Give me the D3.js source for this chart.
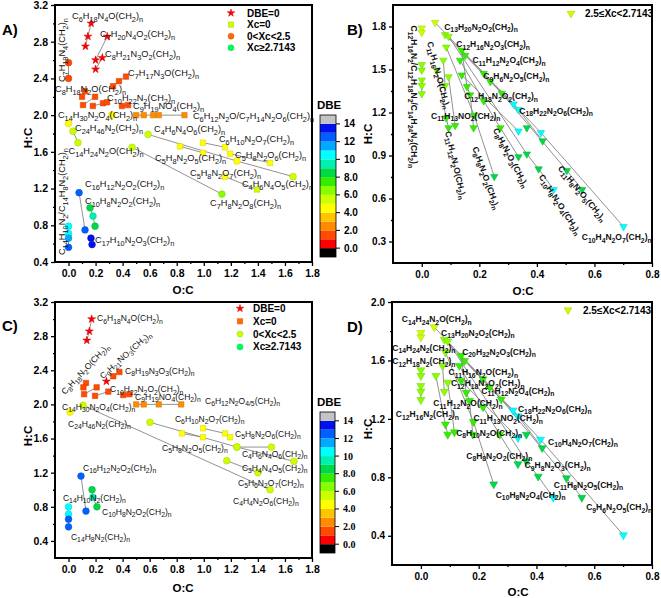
<!DOCTYPE html>
<html><head><meta charset="utf-8">
<script src="https://cdn.jsdelivr.net/npm/d3@7/dist/d3.min.js"></script>
<style>html,body{margin:0;padding:0;background:#fff;}svg{display:block;}</style>
</head><body>
<script>
// ================= DATA =================
// DBE colour scale (blocks from -1 to 15)
const dbeBreaks = [0,1,2,3,4,5,6,7,8,9,10,11,12,13,14];
const dbeColors = ["#000000","#ff0000","#ff4a00","#ff8c00","#ffc400","#ffff00","#ccff00","#88ff00","#33ee00","#00d848","#00f0b0","#00ffff","#00aaff","#0060ff","#0010ee","#c4c4c4"];
const dbeTicks = [0,2,4,6,8,10,12,14];
const dbeTickLabels = ["0.0","2.0","4.0","6.0","8.0","10","12","14"];

// axis ticks
const acXTicks = [0,0.2,0.4,0.6,0.8,1.0,1.2,1.4,1.6,1.8];
const acXMinor = [0.1,0.3,0.5,0.7,0.9,1.1,1.3,1.5,1.7];
const aYTicks = [0.4,0.8,1.2,1.6,2.0,2.4,2.8,3.2];
const cYTicks = [0.4,0.8,1.2,1.6,2.0,2.4,2.8,3.2];
const acYMinor = [0.6,1.0,1.4,1.8,2.2,2.6,3.0];
const bdXTicks = [0,0.2,0.4,0.6,0.8];
const bdXMinor = [0.1,0.3,0.5,0.7];
const bYTicks = [0.3,0.6,0.9,1.2,1.5,1.8];
const bYMinor = [0.45,0.75,1.05,1.35,1.65];
const dYTicks = [0.4,0.8,1.2,1.6,2.0];
const dYMinor = [0.6,1.0,1.4,1.8];

// Panel A series: [O:C, H:C, DBE]
const aSeries = [
 {m:"star",   p:[[0.167,3.0,0],[0.143,2.857,0],[0.125,2.75,0]]},
 {m:"star",   p:[[0.286,2.857,0],[0.2,2.6,0]]},
 {m:"star",   p:[[0.25,2.625,0],[0.2,2.5,0]]},
 {m:"circle", p:[[0,2.571,1],[0,2.4,1]]},
 {m:"square", p:[[0.329,2.315,1],[0.373,2.37,1],[0.425,2.42,1]]},
 {m:"square", p:[[0.122,2.26,1],[0.1,2.2,1]]},
 {m:"square", p:[[0.107,2.11,1],[0.196,2.2,1]]},
 {m:"square", p:[[0.18,2.1,1],[0.255,2.13,1],[0.285,2.14,1]]},
 {m:"square", p:[[0.395,2.1,1],[0.44,2.11,1]]},
 {m:"square", p:[[0.5,2.0,2],[0.556,2.0,2],[0.625,2.0,2],[0.667,2.0,2],[0.857,2.0,2]]},
 {m:"circle", p:[[0,1.91,4]]},
 {m:"circle", p:[[0.32,2.0,4]]},
 {m:"circle", p:[[0.033,1.825,5],[0.07,1.70,5]]},
 {m:"circle", p:[[0.588,1.79,5],[1.245,1.5,4],[1.66,1.33,5]]},
 {m:"circle", p:[[0.47,1.65,5],[1.134,1.14,6]]},
 {m:"square", p:[[0.824,1.66,4],[0.994,1.59,4]]},
 {m:"square", p:[[0.994,1.70,4],[1.157,1.65,4]]},
 {m:"square", p:[[1.194,1.58,4],[1.49,1.48,4]]},
 {m:"square", p:[[1.157,1.33,4],[1.393,1.19,5]]},
 {m:"circle", p:[[0.078,1.155,12],[0.122,0.75,12]]},
 {m:"circle", p:[[0.159,0.99,8],[0.181,0.9,9],[0.196,0.79,8]]},
 {m:"circle", p:[[0.166,0.66,13],[0.174,0.59,13]]},
 {m:"circle", p:[[0,0.79,10],[0,0.71,10],[0,0.66,11],[0,0.56,12]]}
];
// labels: [text, O:C, H:C, angle]
const aLabels = [
 ["C6H18N4O(CH2)n",0.026,3.047,0],["C7H20N4O2(CH2)n",0.233,2.851,0],["C8H21N3O2(CH2)n",0.27,2.633,0],
 ["C7H17N3O(CH2)n",0.44,2.426,0],["C8H18N2O(CH2)n",-0.1,2.252,0],["C10H22N2(CH2)n",0.285,2.154,0],
 ["C9H19NO4(CH2)n",0.477,2.067,0],["C6H12N2O/C7H14N2O6(CH2)n",0.92,1.958,0],["C14H30N2O4(CH2)n",-0.078,1.969,0],
 ["C24H46N2(CH2)n",0.048,1.827,0],["C4H6N4O6(CH2)n",0.632,1.816,0],["C6H10N2O7(CH2)n",1.112,1.707,0],
 ["C14H24N2O(CH2)n",0.0,1.577,0],["C5H8N2O5(CH2)n",0.64,1.5,0],["C5H8N2O6(CH2)n",1.231,1.533,0],
 ["C5H8N2O7(CH2)n",0.898,1.337,0],["C4H6N4O5(CH2)n",1.282,1.217,0],["C7H8N2O8(CH2)n",1.046,1.01,0],
 ["C16H12N2O2(CH2)n",0.122,1.217,0],["C10H8N2O2(CH2)n",0.122,1.032,0],["C17H10N2O3(CH2)n",0.196,0.607,0],
 ["C14H10N2/C14H8N2(CH2)n",-0.026,0.476,-90],["C7H18N4(CH2)n",-0.026,2.36,-90]
];

// Panel C series
const cSeries = [
 {m:"star",   p:[[0.171,3.0,0],[0.154,2.857,0],[0.135,2.75,0]]},
 {m:"star",   p:[[0.28,2.27,0]]},
 {m:"square", p:[[0.331,2.33,1],[0.376,2.38,1]]},
 {m:"square", p:[[0.129,2.25,1],[0.11,2.2,1]]},
 {m:"square", p:[[0.115,2.12,1],[0.208,2.2,1]]},
 {m:"square", p:[[0.196,2.1,1],[0.294,2.15,1]]},
 {m:"square", p:[[0.405,2.11,1],[0.45,2.12,1]]},
 {m:"square", p:[[0.5,2.0,2],[0.556,2.0,2],[0.667,2.0,2],[0.833,2.0,2]]},
 {m:"circle", p:[[0.011,1.91,4]]},
 {m:"circle", p:[[0.107,1.99,5],[1.49,1.0,5]]},
 {m:"circle", p:[[0.602,1.79,5],[1.245,1.5,5],[1.667,1.333,5]]},
 {m:"square", p:[[0.839,1.66,4],[0.994,1.615,4]]},
 {m:"square", p:[[0.994,1.72,4],[1.157,1.66,4]]},
 {m:"square", p:[[1.194,1.615,4]]},
 {m:"circle", p:[[1.245,1.5,5],[1.5,1.5,5]]},
 {m:"circle", p:[[1.17,1.34,5],[1.4,1.2,5]]},
 {m:"circle", p:[[0.092,1.16,12],[0.129,0.75,12]]},
 {m:"circle", p:[[0.174,1.0,8],[0.18,0.91,9],[0.21,0.8,8]]},
 {m:"circle", p:[[0,0.8,10],[0,0.715,10],[0,0.655,12],[0,0.565,12]]}
];
const cLabels = [
 ["C6H18N4O(CH2)n",0.211,2.974,0],["C8H18N2O(CH2)n",-0.026,2.109,-47],["C9H21NO3(CH2)n",0.255,2.296,-42],
 ["C8H19N3O3(CH2)n",0.418,2.355,0],["C10H22N2O2(CH2)n",0.307,2.144,0],["C9H19NO4(CH2)n",0.492,2.051,0],
 ["C6H12N2O4/5(CH2)n",1.009,2.004,0],["C14H30N2O4(CH2)n",-0.048,1.934,0],["C24H46N2(CH2)n",-0.004,1.735,0],
 ["C6H10N2O7(CH2)n",0.787,1.794,0],["C5H8N2O6(CH2)n",1.231,1.618,0],["C5H8N2O5(CH2)n",0.691,1.455,0],
 ["C4H6N4O6(CH2)n",1.282,1.384,0],["C3H4N4O5(CH2)n",1.282,1.22,0],["C5H6N2O7(CH2)n",1.253,1.045,0],
 ["C4H4N2O6(CH2)n",1.216,0.835,0],["C16H12N2O2(CH2)n",0.107,1.221,0],["C14H10N2(CH2)n",-0.041,0.87,0],
 ["C10H8N2O2(CH2)n",0.248,0.706,0],["C14H8N2(CH2)n",0.018,0.414,0]
];

// Panels B and D series (2.5<=Xc<2.7143, triangles)
const bdSeries = [
 [[0.046,1.828,5],[0.319,1.259,10],[0.414,1.059,10],[0.701,0.404,10]],
 [[0.081,1.743,6],[0.215,1.472,7],[0.278,1.334,7],[0.504,0.795,8],[0.557,0.662,8]],
 [[0.093,1.731,6],[0.365,0.91,8],[0.406,0.806,8],[0.458,0.662,10]],
 [[0.133,1.564,7],[0.215,1.281,7],[0.273,1.093,7],[0.336,0.891,8]],
 [[0.151,1.598,7],[0.238,1.415,7],[0.336,1.22,10],[0.42,1.001,8]],
 [[0.085,1.656,6],[0.182,1.18,7],[0.252,0.753,8]],
 [[0.052,1.495,6],[0.085,1.162,7],[0.093,1.093,7]],
 [[0.139,1.633,7],[0.157,1.38,7],[0.168,1.323,7],[0.18,1.093,7]],
 [[0.139,1.461,7],[0.336,1.07,10]],
 [[0.365,1.093,8]],
 [[0.075,1.564,6],[0.081,1.387,6]],
 [[0.093,1.449,6],[0.116,1.109,7]],
 [[0,1.789,5],[0,1.759,5]],
 [[0,1.534,6],[0,1.495,6]],
 [[0,1.426,6],[0,1.387,6],[0,1.33,6]]
];
const bLabels = [
 ["C13H20N2O2(CH2)n",0.078,1.779,0],["C12H16N2O3(CH2)n",0.12,1.654,0],["C11H12N2O4(CH2)n",0.176,1.543,0],
 ["C9H6N2O5(CH2)n",0.214,1.432,0],["C12H18N2O2(CH2)n",0.148,1.293,0],["C18H22N2O6(CH2)n",0.339,1.189,0],
 ["C11H13NO2(CH2)n",0.032,1.154,0],["C10H4N2O7(CH2)n",0.556,0.307,0],
 ["C12H16N2/C12H18N2/C14H24N2(CH2)n",-0.038,1.807,90],["C11H16N2O(CH2)n",0.018,1.689,75],
 ["C11H12N2O(CH2)n",0.081,1.064,77],["C8H8N2O2(CH2)n",0.175,0.953,70],["C8H8N2O3(CH2)n",0.247,1.078,62],
 ["C10H8N2O4(CH2)n",0.406,0.751,57],["C11H8N2O5(CH2)n",0.472,0.807,50]
];
const dLabels = [
 ["C14H24N2O(CH2)n",-0.066,1.86,0],["C13H20N2O2(CH2)n",0.07,1.77,0],["C14H24N2(CH2)n",-0.099,1.665,0],
 ["C20H32N2O3(CH2)n",0.143,1.64,0],["C12H18N2(CH2)n",-0.099,1.573,0],["C11H16N2O(CH2)n",0.096,1.497,0],
 ["C12H18N2O2(CH2)n",0.104,1.424,0],["C11H12N2O4(CH2)n",0.209,1.371,0],["C11H12N2O(CH2)n",0.043,1.286,0],
 ["C18H22N2O6(CH2)n",0.336,1.247,0],["C12H16N2(CH2)n",-0.087,1.21,0],["C11H13NO2(CH2)n",0.182,1.183,0],
 ["C8H10N2O(CH2)n",0.122,1.086,0],["C10H4N2O7(CH2)n",0.44,1.022,0],["C8H8N2O2(CH2)n",0.157,0.926,0],
 ["C9H8N2O3(CH2)n",0.359,0.861,0],["C11H8N2O5(CH2)n",0.46,0.728,0],["C10H8N2O4(CH2)n",0.259,0.659,0],
 ["C9H6N2O5(CH2)n",0.572,0.574,0]
];

const legendAC_A = [["star","#ff0000","DBE=0"],["square","#ccff00","Xc=0"],["circle","#ff6a00","0<Xc<2.5"],["circle","#00ff55","Xc\u22652.7143"]];
const legendAC_C = [["star","#ff0000","DBE=0"],["square","#ff6a00","Xc=0"],["circle","#ccff00","0<Xc<2.5"],["circle","#00ff55","Xc\u22652.7143"]];
const legendBD = [["tri","#ccff00","2.5\u2264Xc<2.7143"]];

// ================= DRAWING =================
const FONT = '"Liberation Sans", Arial, Helvetica, sans-serif';
const svg = d3.select("body").append("svg").attr("width",661).attr("height",598)
  .style("font-family",FONT);
svg.append("rect").attr("width",661).attr("height",598).attr("fill","#fff");

const dbeColor = d3.scaleThreshold().domain(dbeBreaks).range(dbeColors);
const symType = {star:d3.symbolStar, square:d3.symbolSquare, circle:d3.symbolCircle, tri:d3.symbolTriangle};
const symSize = {star:20, square:30, circle:36, tri:26};

function formula(g, str, px, py, size, angle, weight){
  const t = g.append("text").attr("transform",`translate(${px},${py}) rotate(${angle||0})`)
    .attr("font-size",size).attr("font-weight",weight||"normal").attr("fill","#111");
  const runs=[]; let inSub=false;
  for(let i=0;i<str.length;i++){
    const c=str[i], prev=str[i-1]||"", next=str[i+1]||"";
    let sub=false;
    if(/\d/.test(c) && (inSub || /[A-Za-z)]/.test(prev))) sub=true;
    else if(c==="/" && inSub && /\d/.test(next)) sub=true;
    else if(c==="n" && prev===")") sub=true;
    inSub=sub;
    if(runs.length && runs[runs.length-1].sub===sub) runs[runs.length-1].t+=c;
    else runs.push({t:c,sub});
  }
  let shift=0;
  runs.forEach(r=>{
    const target = r.sub ? size*0.28 : 0;
    t.append("tspan").attr("dy",target-shift).attr("font-size", r.sub? size*0.8 : size).text(r.t);
    shift=target;
  });
}

function drawMarker(g, type, cx, cy, color, sz){
  const p = g.append("path").attr("d", d3.symbol().type(symType[type]).size(sz||symSize[type])())
    .attr("fill", color).attr("stroke", d3.color(color).darker(0.6)).attr("stroke-width",0.5);
  p.attr("transform", `translate(${cx},${cy})` + (type==="tri" ? " rotate(180)" : ""));
}

function panel(cfg){
  const x = d3.scaleLinear().domain(cfg.xd).range([cfg.l,cfg.r]);
  const y = d3.scaleLinear().domain(cfg.yd).range([cfg.b,cfg.t]);
  const g = svg.append("g");
  const styleAxis = (sel, fs) => {
    sel.select(".domain").remove();
    sel.selectAll(".tick line").attr("stroke","#000").attr("stroke-width",1.3);
    sel.selectAll(".tick text").attr("font-size",fs).attr("font-weight","bold").attr("fill","#000").attr("font-family",FONT);
  };
  g.append("g").attr("transform",`translate(0,${cfg.b})`)
    .call(d3.axisBottom(x).tickValues(cfg.xt).tickFormat(d3.format(".1f")).tickSize(4).tickPadding(4))
    .call(s=>styleAxis(s,cfg.tfs));
  g.append("g").attr("transform",`translate(0,${cfg.b})`)
    .call(d3.axisBottom(x).tickValues(cfg.xm).tickFormat("").tickSize(2)).call(s=>styleAxis(s,cfg.tfs));
  g.append("g").attr("transform",`translate(${cfg.l},0)`)
    .call(d3.axisLeft(y).tickValues(cfg.yt).tickFormat(d3.format(".1f")).tickSize(4).tickPadding(3))
    .call(s=>styleAxis(s,cfg.tfs));
  g.append("g").attr("transform",`translate(${cfg.l},0)`)
    .call(d3.axisLeft(y).tickValues(cfg.ym).tickFormat("").tickSize(2)).call(s=>styleAxis(s,cfg.tfs));
  g.append("rect").attr("x",cfg.l).attr("y",cfg.t).attr("width",cfg.r-cfg.l).attr("height",cfg.b-cfg.t)
    .attr("fill","none").attr("stroke","#000").attr("stroke-width",2);

  const line = d3.line().x(d=>x(d[0])).y(d=>y(d[1]));
  const inner = g.append("g");
  cfg.series.forEach(s=>{
    const pts = s.p || s;
    if(pts.length>1) inner.append("path").attr("d",line(pts)).attr("fill","none").attr("stroke","#868686").attr("stroke-width",0.9);
  });
  cfg.series.forEach(s=>{
    const pts = s.p || s, m = s.m || "tri";
    pts.forEach(d=>drawMarker(inner, m, x(d[0]), y(d[1]), dbeColor(d[2]), cfg.msz && cfg.msz[m]));
  });
  cfg.labels.forEach(l=>formula(g, l[0], x(l[1]), y(l[2]), cfg.lfs, l[3], cfg.lw));

  // titles
  g.append("text").attr("x",cfg.xtitle[0]).attr("y",cfg.xtitle[1]).attr("text-anchor","middle")
    .attr("font-size",11.5).attr("font-weight","bold").text("O:C");
  g.append("text").attr("transform",`translate(${cfg.ytitle[0]},${cfg.ytitle[1]}) rotate(-90)`).attr("text-anchor","middle")
    .attr("font-size",11.5).attr("font-weight","bold").text("H:C");
  g.append("text").attr("x",cfg.tag[0]).attr("y",cfg.tag[1]).attr("font-size",15).attr("font-weight","bold").text(cfg.tag[2]);

  // legend
  cfg.legend.forEach((L,i)=>{
    const ly = cfg.leg[1] + i*cfg.leg[3];
    drawMarker(g, L[0], cfg.leg[0], ly, L[1], L[0]==="star"?18:(L[0]==="tri"?26:28));
    g.append("text").attr("x",cfg.leg[2]).attr("y",ly+3.5).attr("font-size",10).attr("font-weight","bold").text(L[2]);
  });
}

function colorbar(cfg){
  const g = svg.append("g");
  const y = d3.scaleLinear().domain([-1,15]).range([cfg.b,cfg.t]);
  dbeColors.forEach((c,i)=>{
    const v=i-1;
    g.append("rect").attr("x",cfg.l).attr("y",y(v+1)).attr("width",cfg.w).attr("height",y(v)-y(v+1)).attr("fill",c);
  });
  g.append("rect").attr("x",cfg.l).attr("y",cfg.t).attr("width",cfg.w).attr("height",cfg.b-cfg.t)
    .attr("fill","none").attr("stroke","#000").attr("stroke-width",0.8);
  dbeTicks.forEach((v,i)=>{
    g.append("line").attr("x1",cfg.l+cfg.w).attr("x2",cfg.l+cfg.w+4).attr("y1",y(v)).attr("y2",y(v)).attr("stroke","#000").attr("stroke-width",1);
    g.append("text").attr("x",cfg.l+cfg.w+8).attr("y",y(v)+3.5).attr("font-size",cfg.fs).attr("font-weight","bold")
      .attr("font-family",cfg.ff).text(dbeTickLabels[i]);
  });
  g.append("text").attr("x",cfg.l-3).attr("y",cfg.t-6).attr("font-size",11.5).attr("font-weight","bold").text("DBE");
}

panel({l:55,r:312,t:5,b:262,xd:[-0.1,1.8],yd:[0.4,3.2],xt:acXTicks,xm:acXMinor,yt:aYTicks,ym:acYMinor,tfs:10.5,
  series:aSeries,labels:aLabels,lfs:9.2,lw:"normal",xtitle:[183,294],ytitle:[32,138],tag:[2,35,"A)"],
  legend:legendAC_A,leg:[231,13,247,11.6]});
panel({l:393,r:652,t:5,b:263,xd:[-0.1,0.8],yd:[0.15,1.95],xt:bdXTicks,xm:bdXMinor,yt:bYTicks,ym:bYMinor,tfs:10,
  series:bdSeries,labels:bLabels,lfs:8.5,lw:"bold",xtitle:[523,295],ytitle:[372,134],tag:[347,35,"B)"],
  legend:legendBD,leg:[571,13.5,585,12],msz:{tri:24}});
panel({l:55,r:312,t:302,b:558,xd:[-0.1,1.8],yd:[0.2,3.2],xt:acXTicks,xm:acXMinor,yt:cYTicks,ym:acYMinor,tfs:10.5,
  series:cSeries,labels:cLabels,lfs:8.5,lw:"normal",xtitle:[183,592],ytitle:[32,436],tag:[2,331,"C)"],
  legend:legendAC_C,leg:[240,308.5,253,12.8]});
panel({l:392,r:652,t:302,b:565,xd:[-0.1,0.8],yd:[0.2,2.0],xt:bdXTicks,xm:bdXMinor,yt:dYTicks,ym:dYMinor,tfs:10,
  series:bdSeries,labels:dLabels,lfs:8.5,lw:"bold",xtitle:[518,596],ytitle:[372,429],tag:[347,332,"D)"],
  legend:legendBD,leg:[568,310,583,12],msz:{tri:28}});

colorbar({l:320,w:16,t:115,b:257,fs:10,ff:FONT});
colorbar({l:320,w:15,t:412,b:553,fs:10,ff:'"Liberation Serif","Times New Roman",serif'});
</script>
</body></html>
